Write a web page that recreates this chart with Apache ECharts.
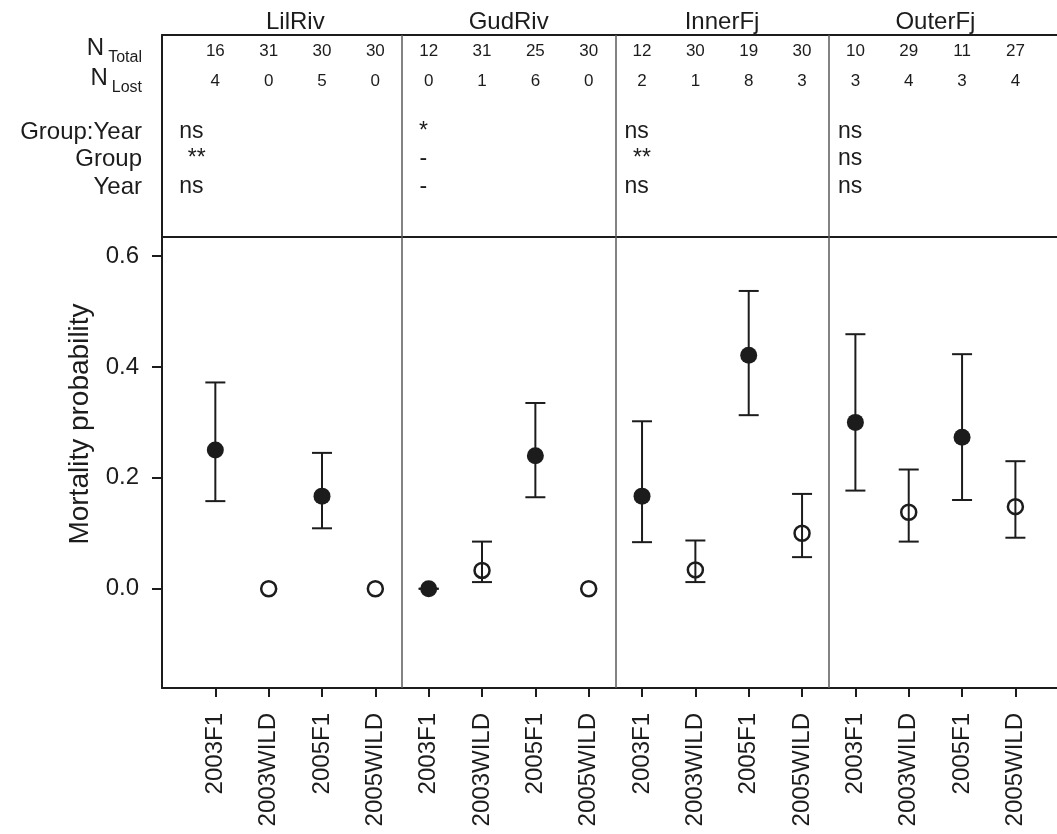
<!DOCTYPE html>
<html>
<head>
<meta charset="utf-8">
<script src="https://cdn.jsdelivr.net/npm/echarts@6/dist/echarts.min.js"></script>
<style>
  html, body { margin: 0; padding: 0; background: #fff; }
  #chart { width: 1057px; height: 834px; }
</style>
</head>
<body>
<div id="chart"></div>
<script>
// sites (panels) and groups inside each panel
const sites = ['LilRiv', 'GudRiv', 'InnerFj', 'OuterFj'];
const groups = ['2003F1', '2003WILD', '2005F1', '2005WILD'];

// counts shown in the header, one value per site/group
const nTotal = [16, 31, 30, 30, 12, 31, 25, 30, 12, 30, 19, 30, 10, 29, 11, 27];
const nLost = [4, 0, 5, 0, 0, 1, 6, 0, 2, 1, 8, 3, 3, 4, 3, 4];

// significance per site
const sigGroupYear = ['ns', '*', 'ns', 'ns'];
const sigGroup = ['**', '-', '**', 'ns'];
const sigYear = ['ns', '-', 'ns', 'ns'];

// mortality probability and interval (null = no bar)
const mortality = [0.25, 0, 0.167, 0, 0, 0.033, 0.24, 0, 0.167, 0.034, 0.421, 0.1, 0.3, 0.138, 0.273, 0.148];
const ciLower = [0.158, null, 0.109, null, 0, 0.012, 0.165, null, 0.084, 0.012, 0.313, 0.057, 0.177, 0.085, 0.160, 0.092];
const ciUpper = [0.372, null, 0.245, null, 0, 0.085, 0.335, null, 0.302, 0.087, 0.537, 0.171, 0.459, 0.215, 0.423, 0.230];

const yTicks = [0, 0.2, 0.4, 0.6];

// layout helpers (not data)
const INK = '#1c1c1c';
const FONT = 'Liberation Sans';
const X_MAX = 16.78;
const rowY = [16, 46, 97, 124, 152];           // header rows, px below header top
const rowNames = ['{n|N}{s|Total}', '{n|N}{s|Lost}', 'Group:Year', 'Group', 'Year'];
const sigX = [0.55, 4.9, 8.9, 12.9];

const catX = groups.length * sites.length;
const xs = [];
for (let i = 0; i < catX; i++) xs.push(i + 1);
const dividers = [4.5, 8.5, 12.5];
const titleX = [2.5, 6.5, 10.5, 14.5];

const filled = [], open = [], bars = [];
mortality.forEach((m, i) => {
  if (i % 2 === 0) filled.push([xs[i], m]);
  else open.push([xs[i], m]);
  if (ciLower[i] !== null) bars.push([xs[i], ciLower[i], ciUpper[i]]);
});

const headN = [];
nTotal.forEach((n, i) => headN.push([xs[i], rowY[0], String(n)]));
nLost.forEach((n, i) => headN.push([xs[i], rowY[1], String(n)]));

const headSig = [];
sites.forEach((s, g) => {
  [sigGroupYear[g], sigGroup[g], sigYear[g]].forEach((t, k) => {
    headSig.push([sigX[g] + (t === '**' ? 0.1 : 0), rowY[k + 2], t]);
  });
});

const divLine = {
  silent: true,
  symbol: 'none',
  label: { show: false },
  lineStyle: { color: '#5a5a5a', width: 1.5, type: 'solid', opacity: 1 },
  data: dividers.map(d => ({ xAxis: d }))
};

function line(show) {
  return { show: show, onZero: false, lineStyle: { color: INK, width: 2 } };
}

var chart = echarts.init(document.getElementById('chart'));
var option = {
  animation: false,
  backgroundColor: '#fff',
  textStyle: { fontFamily: FONT, color: INK },
  grid: [
    { left: 162, right: 0, top: 237, bottom: 146, outerBoundsMode: 'none' },
    { left: 162, right: 0, top: 35, height: 202, outerBoundsMode: 'none' }
  ],
  xAxis: [
    {
      gridIndex: 0, type: 'value', min: 0, max: X_MAX, position: 'bottom',
      splitLine: { show: false },
      axisLine: line(true),
      axisTick: { show: true, inside: false, length: 9, customValues: xs, lineStyle: { color: INK, width: 2 } },
      axisLabel: {
        show: true, rotate: 90, margin: 25, customValues: xs,
        fontSize: 24, fontFamily: FONT, color: INK,
        formatter: v => groups[(Math.round(v) - 1) % 4]
      }
    },
    {
      gridIndex: 1, type: 'value', min: 0, max: X_MAX, position: 'top',
      splitLine: { show: false },
      axisLine: line(true),
      axisTick: { show: false },
      axisLabel: {
        show: true, margin: 1, customValues: titleX,
        fontSize: 24, fontFamily: FONT, color: INK,
        formatter: v => sites[titleX.indexOf(v)]
      }
    },
    {
      gridIndex: 1, type: 'value', min: 0, max: X_MAX, position: 'bottom',
      splitLine: { show: false },
      axisLine: line(true),
      axisTick: { show: false },
      axisLabel: { show: false }
    }
  ],
  yAxis: [
    {
      gridIndex: 0, type: 'value', min: -0.179, max: 0.6343,
      splitLine: { show: false },
      axisLine: line(true),
      axisTick: { show: true, inside: false, length: 10, customValues: yTicks, lineStyle: { color: INK, width: 2 } },
      axisLabel: {
        show: true, margin: 23, customValues: yTicks,
        fontSize: 24, fontFamily: FONT, color: INK,
        formatter: v => v.toFixed(1)
      }
    },
    {
      gridIndex: 1, type: 'value', min: 0, max: 202, inverse: true,
      splitLine: { show: false },
      axisLine: line(true),
      axisTick: { show: false },
      axisLabel: {
        show: true, margin: 20, customValues: rowY,
        fontSize: 24, fontFamily: FONT, color: INK,
        formatter: v => rowNames[rowY.indexOf(v)],
        rich: {
          n: { fontSize: 24, fontFamily: FONT, color: INK, lineHeight: 30, verticalAlign: 'top' },
          s: { fontSize: 16, fontFamily: FONT, color: INK, lineHeight: 16, verticalAlign: 'bottom', padding: [0, 0, 0, 4] }
        }
      }
    }
  ],
  graphic: [
    {
      type: 'text', x: 80, y: 424, rotation: Math.PI / 2,
      style: {
        text: 'Mortality probability', fill: INK,
        font: '28px "Liberation Sans"', align: 'center', verticalAlign: 'middle'
      }
    }
  ],
  series: [
    {
      type: 'custom', xAxisIndex: 0, yAxisIndex: 0, data: bars,
      encode: { x: 0, y: [1, 2] },
      renderItem: function (params, api) {
        const x = api.value(0);
        const lo = api.coord([x, api.value(1)]);
        const hi = api.coord([x, api.value(2)]);
        const cap = 10;
        const st = { stroke: INK, lineWidth: 2 };
        return {
          type: 'group',
          children: [
            { type: 'line', shape: { x1: lo[0], y1: lo[1], x2: hi[0], y2: hi[1] }, style: st },
            { type: 'line', shape: { x1: hi[0] - cap, y1: hi[1], x2: hi[0] + cap, y2: hi[1] }, style: st },
            { type: 'line', shape: { x1: lo[0] - cap, y1: lo[1], x2: lo[0] + cap, y2: lo[1] }, style: st }
          ]
        };
      },
      markLine: divLine
    },
    {
      type: 'scatter', xAxisIndex: 0, yAxisIndex: 0, data: filled,
      symbol: 'circle', symbolSize: 17, itemStyle: { color: INK, opacity: 1 }
    },
    {
      type: 'scatter', xAxisIndex: 0, yAxisIndex: 0, data: open,
      symbol: 'circle', symbolSize: 15,
      itemStyle: { color: 'rgba(0,0,0,0)', borderColor: INK, borderWidth: 2.5, opacity: 1 }
    },
    {
      type: 'scatter', xAxisIndex: 1, yAxisIndex: 1, data: headN,
      symbolSize: 1, itemStyle: { color: 'rgba(0,0,0,0)', opacity: 1 },
      label: {
        show: true, position: 'inside', formatter: p => p.value[2],
        fontSize: 17, fontFamily: FONT, color: INK, opacity: 1
      },
      markLine: divLine
    },
    {
      type: 'scatter', xAxisIndex: 1, yAxisIndex: 1, data: headSig,
      symbolSize: 1, itemStyle: { color: 'rgba(0,0,0,0)', opacity: 1 },
      label: {
        show: true, position: 'inside', formatter: p => p.value[2],
        fontSize: 23, fontFamily: FONT, color: INK, opacity: 1
      }
    }
  ]
};
chart.setOption(option);
</script>
</body>
</html>
